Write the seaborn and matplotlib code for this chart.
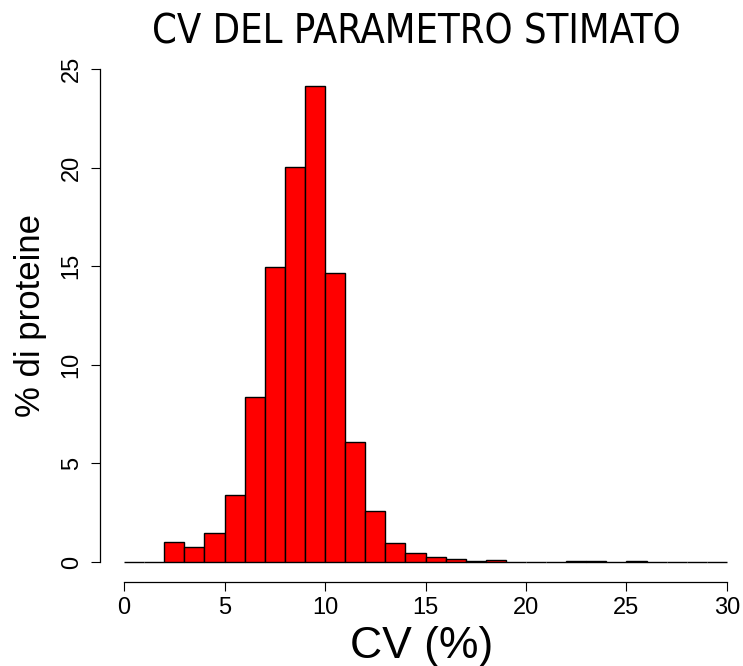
import numpy as np
import pandas as pd
import matplotlib
matplotlib.use("Agg")
import matplotlib.pyplot as plt
import seaborn as sns

# Histogram of the coefficient of variation (bins of width 1, from 0 to 30)
bin_edges = list(range(0, 31))
pct_proteins = [0.0, 0.02, 1.0, 0.75, 1.45, 3.4, 8.35, 14.95, 20.05, 24.15,
                14.65, 6.08, 2.6, 0.96, 0.46, 0.27, 0.17, 0.07, 0.12, 0.0,
                0.0, 0.0, 0.03, 0.03, 0.0, 0.05, 0.01, 0.01, 0.01, 0.01]
x_ticks = [0, 5, 10, 15, 20, 25, 30]
y_ticks = [0, 5, 10, 15, 20, 25]

title_text = "CV DEL PARAMETRO STIMATO"
x_label = "CV (%)"
y_label = "% di proteine"

sns.set_theme(style="white")
plt.rcParams["font.family"] = ["Liberation Sans", "DejaVu Sans"]
plt.rcParams["text.color"] = "black"
plt.rcParams["axes.labelcolor"] = "black"

df = pd.DataFrame({
    "cv": [e + 0.5 for e in bin_edges[:-1]],
    "pct": pct_proteins,
})

W, H = 743, 666
fig = plt.figure(figsize=(W / 100, H / 100), dpi=100)
ax = fig.add_axes([100 / W, (H - 582) / H, (W - 100) / W, 0.8])

sns.histplot(data=df, x="cv", weights="pct", bins=bin_edges, stat="count",
             color="#FF0000", alpha=1.0, edgecolor="black", linewidth=1.0,
             ax=ax)

ax.set_xlim(-1.2, 30.8)
ax.set_ylim(-1.014, 26)

for side in ("top", "right"):
    ax.spines[side].set_visible(False)
for side in ("left", "bottom"):
    ax.spines[side].set_color("black")
    ax.spines[side].set_linewidth(0.9)
ax.spines["left"].set_bounds(0, 25)
ax.spines["bottom"].set_bounds(0, 30)

ax.set_xticks(x_ticks)
ax.set_yticks(y_ticks)
ax.set_xticklabels([str(t) for t in x_ticks])
ax.set_yticklabels([str(t) for t in y_ticks], rotation=90, va="center")
ax.tick_params(axis="both", direction="out", length=6.5, width=0.8,
               color="black", labelsize=17, labelcolor="black", left=True,
               bottom=True)
ax.tick_params(axis="x", pad=4)
ax.tick_params(axis="y", pad=6)

ax.set_xlabel(x_label, fontsize=32, labelpad=5)
ax.set_ylabel(y_label, fontsize=25, labelpad=10)

fig.text(416 / W, 1 - 32 / H, title_text, ha="center", va="center",
         fontsize=28.5, family="DejaVu Sans", stretch="condensed")

fig.savefig("out.png", dpi=100, facecolor="white")
